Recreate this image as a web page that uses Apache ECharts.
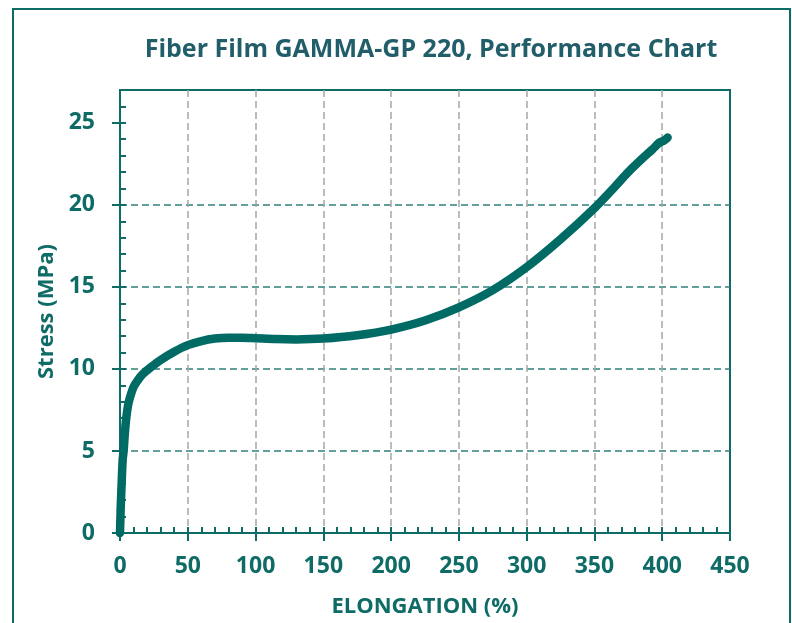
<!DOCTYPE html>
<html>
<head>
<meta charset="utf-8">
<script src="https://cdn.jsdelivr.net/npm/echarts@6/dist/echarts.min.js"></script>
<style>html,body{margin:0;padding:0;background:#fff;}#c{width:792px;height:623px;}</style>
</head>
<body>
<div id="c"></div>
<script>
// Data
const elongation = [0, 0.5, 1.2, 2, 2.7, 3.5, 4.6, 6, 7.5, 10, 13, 17, 22, 30, 40, 50, 60, 70, 80, 90, 100, 115, 130, 150, 175, 200, 225, 250, 275, 300, 325, 350, 365, 375, 385, 393, 398, 401, 404];
const stress     = [0, 1.5, 3, 4.5, 5, 6, 7, 7.8, 8.3, 8.9, 9.3, 9.7, 10.05, 10.55, 11.05, 11.45, 11.7, 11.85, 11.9, 11.9, 11.87, 11.82, 11.8, 11.85, 12.05, 12.4, 12.95, 13.75, 14.8, 16.2, 17.9, 19.8, 21.1, 22.0, 22.8, 23.4, 23.8, 23.9, 24.1];
const yTickValues = [0, 5, 10, 15, 20, 25];

const teal = '#0e6b66';
const titleColor = '#215e69';
const font = '"Open Sans", "Noto Sans", sans-serif';

const chart = echarts.init(document.getElementById('c'), null, {renderer: 'canvas'});
chart.setOption({
  animation: false,
  backgroundColor: '#fff',
  title: {
    text: 'Fiber Film GAMMA-GP 220, Performance Chart',
    left: 426, top: 32, textAlign: 'center',
    textStyle: {fontFamily: font, fontWeight: 'bold', fontSize: 25, color: titleColor}
  },
  graphic: [{
    type: 'rect', silent: true, z: -1,
    shape: {x: 13, y: 9, width: 777, height: 660},
    style: {fill: null, stroke: teal, lineWidth: 2}
  }],
  grid: {left: 120, right: 62, top: 90, bottom: 90, show: true, borderColor: teal, borderWidth: 2, backgroundColor: 'transparent'},
  xAxis: [{
    type: 'value', min: 0, max: 450, interval: 50, position: 'bottom',
    name: 'ELONGATION (%)', nameLocation: 'middle', nameGap: 63,
    nameTextStyle: {fontFamily: font, fontWeight: 'bold', fontSize: 22, color: teal},
    axisLine: {show: true, lineStyle: {color: teal, width: 2}},
    axisTick: {show: true, inside: true, length: 6, lineStyle: {color: teal, width: 2}},
    minorTick: {show: true, splitNumber: 5, length: 6, lineStyle: {color: teal, width: 2}},
    axisLabel: {margin: 22, fontFamily: font, fontWeight: 'bold', fontSize: 23, color: teal},
    splitLine: {show: true, showMinLine: false, showMaxLine: false, lineStyle: {color: '#a6a6a6', type: [7, 4], width: 1.5}}
  }, {
    type: 'value', min: 0, max: 450, interval: 50, position: 'bottom',
    axisLine: {show: true, lineStyle: {color: teal, width: 2}},
    axisTick: {show: true, inside: false, length: 8, lineStyle: {color: teal, width: 2}},
    axisLabel: {show: false},
    splitLine: {show: false}
  }],
  yAxis: [{
    type: 'value', min: 0, max: 27, interval: 1, position: 'left',
    name: 'Stress (MPa)', nameLocation: 'middle', nameGap: 62,
    nameTextStyle: {fontFamily: font, fontWeight: 'bold', fontSize: 22, color: teal},
    axisLine: {show: true, lineStyle: {color: teal, width: 2}},
    axisTick: {show: true, inside: true, length: 6, lineStyle: {color: teal, width: 2}},
    axisLabel: {margin: 25, fontFamily: font, fontWeight: 'bold', fontSize: 23, color: teal,
      formatter: v => (yTickValues.indexOf(v) >= 0 ? String(v) : '')},
    splitLine: {show: false}
  }, {
    type: 'value', min: 0, max: 27, interval: 5, position: 'left',
    axisLine: {show: true, lineStyle: {color: teal, width: 2}},
    axisTick: {show: true, inside: false, length: 8, customValues: yTickValues, lineStyle: {color: teal, width: 2}},
    axisLabel: {show: false},
    splitLine: {show: true, showMinLine: false, showMaxLine: false, lineStyle: {color: '#2f807b', type: [7, 4], width: 1.5}}
  }],
  series: [{
    type: 'line', xAxisIndex: 0, yAxisIndex: 0,
    data: elongation.map((x, i) => [x, stress[i]]),
    showSymbol: false, symbol: 'none', smooth: 0.3,
    lineStyle: {color: '#006a64', width: 8.5, cap: 'round', join: 'round'},
    z: 5
  }]
});
</script>
</body>
</html>
